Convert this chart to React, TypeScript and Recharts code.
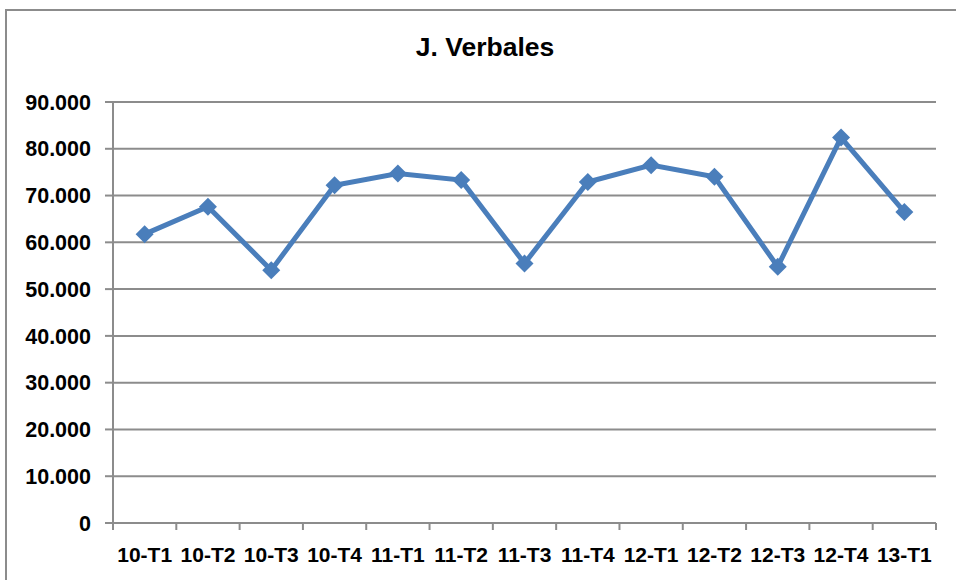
import { LineChart, Line, XAxis, YAxis, CartesianGrid } from "recharts";

const quarters = [
  "10-T1", "10-T2", "10-T3", "10-T4",
  "11-T1", "11-T2", "11-T3", "11-T4",
  "12-T1", "12-T2", "12-T3", "12-T4",
  "13-T1",
];
const verbales = [
  61750, 67600, 54050, 72200,
  74700, 73300, 55500, 72900,
  76500, 74000, 54800, 82400,
  66500,
];
const yTicks = [0, 10000, 20000, 30000, 40000, 50000, 60000, 70000, 80000, 90000];

const data = quarters.map((q, i) => ({ q, value: verbales[i] }));

const BLUE = "#4a7ebb";
const GRAY = "#8c8c8c";
const FONT = "'Liberation Sans', Arial, sans-serif";
const PLOT_W = 823;
const BAND = PLOT_W / quarters.length;

const fmt = (v: number) => String(v).replace(/\B(?=(\d{3})+(?!\d))/g, ".");

function Diamond(props: any) {
  const { cx, cy } = props;
  if (cx == null || cy == null) return null;
  const r = 9;
  return (
    <polygon
      points={`${cx},${cy - r} ${cx + r},${cy} ${cx},${cy + r} ${cx - r},${cy}`}
      fill={BLUE}
    />
  );
}

// Excel-style: tick marks sit between categories, label in the middle
function QuarterTick(props: any) {
  const { x, y, payload, index } = props;
  const top = y - 8;
  const last = index === quarters.length - 1;
  return (
    <g>
      <line x1={x - BAND / 2} y1={top} x2={x - BAND / 2} y2={top + 7} stroke={GRAY} strokeWidth={2} />
      {last && (
        <line x1={x + BAND / 2} y1={top} x2={x + BAND / 2} y2={top + 7} stroke={GRAY} strokeWidth={2} />
      )}
      <text
        x={x}
        y={top + 39}
        textAnchor="middle"
        fontFamily={FONT}
        fontWeight="bold"
        fontSize={21}
        fill="#000"
      >
        {payload.value}
      </text>
    </g>
  );
}

export default function App() {
  return (
    <div style={{ position: "relative", width: 956, height: 580, overflow: "hidden", background: "#fff" }}>
      <style>{"body{margin:0}"}</style>
      <div
        style={{
          position: "absolute",
          left: 5,
          top: 9,
          width: 1000,
          height: 640,
          borderTop: `2px solid ${GRAY}`,
          borderLeft: `2px solid ${GRAY}`,
          boxSizing: "border-box",
        }}
      />
      <div
        style={{
          position: "absolute",
          left: 0,
          width: 970,
          top: 32,
          textAlign: "center",
          fontFamily: FONT,
          fontWeight: "bold",
          fontSize: 26.5,
          color: "#000",
        }}
      >
        J. Verbales
      </div>
      <div style={{ position: "absolute", left: 0, top: 0 }}>
        <LineChart
          width={956}
          height={580}
          data={data}
          margin={{ top: 102, right: 20, left: 0, bottom: 7 }}
        >
          <CartesianGrid vertical={false} stroke={GRAY} strokeWidth={2} />
          <XAxis
            dataKey="q"
            height={50}
            padding={{ left: BAND / 2, right: BAND / 2 }}
            axisLine={{ stroke: GRAY, strokeWidth: 2 }}
            tickLine={false}
            interval={0}
            tick={<QuarterTick />}
          />
          <YAxis
            width={113}
            domain={[0, 90000]}
            ticks={yTicks}
            interval={0}
            tickFormatter={fmt}
            axisLine={{ stroke: GRAY, strokeWidth: 2 }}
            tickLine={{ stroke: GRAY, strokeWidth: 2 }}
            tickSize={8}
            tickMargin={14}
            tick={{ fontFamily: FONT, fontWeight: "bold", fontSize: 21.5, fill: "#000" }}
          />
          <Line
            type="linear"
            dataKey="value"
            stroke={BLUE}
            strokeWidth={5}
            dot={<Diamond />}
            activeDot={false}
            isAnimationActive={false}
          />
        </LineChart>
      </div>
    </div>
  );
}
